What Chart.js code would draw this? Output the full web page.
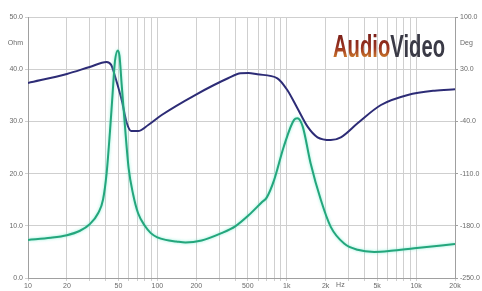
<!DOCTYPE html>
<html>
<head>
<meta charset="utf-8">
<script src="https://cdn.jsdelivr.net/npm/chart.js@4"></script>
<style>
  html, body { margin: 0; padding: 0; background: #fff; }
  #c { display: block; }
</style>
</head>
<body>
<canvas id="c" width="482" height="291"></canvas>
<script>
// impedance curve (Ohm, left axis)
var impFreq = [10, 15, 20, 25, 30, 35, 38, 40.5, 43, 45, 47, 49.5, 51, 53, 56, 60, 65, 71, 80, 89, 100, 116, 140, 165, 220, 313, 400, 507, 648, 700, 800, 950, 1140, 1210, 1330, 1530, 1840, 2190, 2780, 3530, 4750, 6400, 9700, 20000];
var impOhm  = [7.3, 7.7, 8.2, 9.0, 10.3, 12.5, 15, 20, 28, 35, 41.5, 43.6, 42.5, 37, 29.5, 21, 16, 12.4, 10, 8.6, 7.8, 7.3, 7.0, 6.8, 7.2, 8.6, 9.9, 12.0, 14.6, 15.4, 18.8, 25.2, 30.3, 30.6, 29, 22, 14.9, 9.8, 6.6, 5.4, 5.0, 5.2, 5.7, 6.5];

// phase curve (Deg, right axis)
var phaseFreq = [10, 20, 30, 40.5, 44, 48, 53, 58, 63, 71, 85, 108, 196, 355, 440, 507, 593, 847, 1010, 1210, 1450, 1730, 2190, 2620, 3530, 5350, 8630, 13900, 20000];
var phaseDeg  = [11.5, 23.6, 33, 39.7, 35.6, 15.5, -11.3, -42.1, -52.9, -52.9, -44.8, -31.4, -4.6, 18.2, 24.5, 24.9, 23.1, 17.8, 2.1, -22.4, -47.1, -61.3, -64.9, -61.3, -42.5, -18, -4.6, 1.2, 3];

var xLabels = {10: '10', 20: '20', 50: '50', 100: '100', 200: '200', 500: '500', 1000: '1k', 2000: '2k', 5000: '5k', 10000: '10k', 20000: '20k'};
var ohmTicks = [0, 10, 20, 30, 40, 50];
var degTicks = [-250, -180, -110, -40, 30, 100];

var xGrid = [];
[10, 100, 1000, 10000].forEach(function (d) {
  for (var k = 1; k <= 9; k++) {
    if (d * k <= 20000) xGrid.push(d * k);
  }
});

function pts(xs, ys) {
  return xs.map(function (x, i) { return {x: x, y: ys[i]}; });
}

var labelFont = {family: 'Liberation Sans', size: 7};
var labelColor = '#6a6a6a';

var extras = {
  id: 'extras',
  // soft light halo round the green trace
  beforeDatasetDraw: function (chart, args) {
    if (args.index === 0) {
      chart.ctx.save();
      chart.ctx.shadowColor = 'rgba(110, 235, 205, 0.8)';
      chart.ctx.shadowBlur = 3;
    }
  },
  afterDatasetDraw: function (chart, args) {
    if (args.index === 0) chart.ctx.restore();
  },
  afterDraw: function (chart) {
    var ctx = chart.ctx;
    var x = chart.scales.x, yl = chart.scales.y, yr = chart.scales.y2;
    ctx.save();
    ctx.fillStyle = labelColor;
    ctx.font = '7px "Liberation Sans"';
    ctx.textBaseline = 'middle';
    ctx.textAlign = 'right';
    ctx.fillText('Ohm', yl.right - 5, yl.getPixelForValue(45));
    ctx.textAlign = 'left';
    ctx.fillText('Deg', yr.left + 5, yr.getPixelForValue(65));
    ctx.textAlign = 'center';
    ctx.textBaseline = 'top';
    ctx.fillText('Hz', x.getPixelForValue(2600), x.top + 4);

    // logo
    ctx.font = 'bold 30px "Liberation Sans Narrow", "Liberation Sans"';
    ctx.textBaseline = 'alphabetic';
    ctx.textAlign = 'left';
    var w1 = ctx.measureText('Audio').width;
    var w2 = ctx.measureText('Video').width;
    var sx = 112 / (w1 + w2);
    ctx.translate(333, 57);
    ctx.scale(sx, 1.05);
    var g = ctx.createLinearGradient(0, -22, 0, 0);
    g.addColorStop(0, '#7a1f18');
    g.addColorStop(0.6, '#9a3320');
    g.addColorStop(1, '#c8742a');
    ctx.fillStyle = g;
    ctx.fillText('Audio', 0, 0);
    ctx.fillStyle = '#3a3a46';
    ctx.fillText('Video', w1, 0);
    ctx.restore();
  }
};

new Chart(document.getElementById('c'), {
  type: 'line',
  data: {
    datasets: [{
      label: 'Impedance',
      data: pts(impFreq, impOhm),
      yAxisID: 'y',
      borderColor: '#24a67c',
      borderWidth: 2,
      pointRadius: 0,
      cubicInterpolationMode: 'monotone',
      fill: false
    }, {
      label: 'Phase',
      data: pts(phaseFreq, phaseDeg),
      yAxisID: 'y2',
      borderColor: '#2d2c76',
      borderWidth: 2,
      pointRadius: 0,
      cubicInterpolationMode: 'monotone',
      fill: false
    }]
  },
  options: {
    responsive: false,
    animation: false,
    layout: {padding: {top: 17, left: 0, right: 0, bottom: 0}},
    plugins: {legend: {display: false}, tooltip: {enabled: false}},
    scales: {
      x: {
        type: 'logarithmic',
        min: 10,
        max: 20000,
        afterBuildTicks: function (s) { s.ticks = xGrid.map(function (v) { return {value: v}; }); },
        afterFit: function (s) { s.height = 13; },
        ticks: {
          autoSkip: false,
          maxRotation: 0,
          padding: 1,
          font: labelFont,
          color: labelColor,
          callback: function (v) { return xLabels[v] || ''; }
        },
        grid: {color: '#cfcfcf', tickLength: 3},
        border: {color: '#a0a0a0'}
      },
      y: {
        position: 'left',
        min: 0,
        max: 50,
        afterBuildTicks: function (s) { s.ticks = ohmTicks.map(function (v) { return {value: v}; }); },
        afterFit: function (s) { s.width = 28; },
        ticks: {
          padding: 2,
          font: labelFont,
          color: labelColor,
          callback: function (v) { return v.toFixed(1); }
        },
        grid: {color: '#cfcfcf', tickLength: 3},
        border: {color: '#a0a0a0'}
      },
      y2: {
        position: 'right',
        min: -250,
        max: 100,
        afterBuildTicks: function (s) { s.ticks = degTicks.map(function (v) { return {value: v}; }); },
        afterFit: function (s) { s.width = 27; },
        ticks: {
          padding: 2,
          font: labelFont,
          color: labelColor,
          callback: function (v) { return v.toFixed(1); }
        },
        grid: {drawOnChartArea: false, color: '#a0a0a0', tickLength: 3},
        border: {color: '#a0a0a0'}
      }
    }
  },
  plugins: [extras]
});
</script>
</body>
</html>
